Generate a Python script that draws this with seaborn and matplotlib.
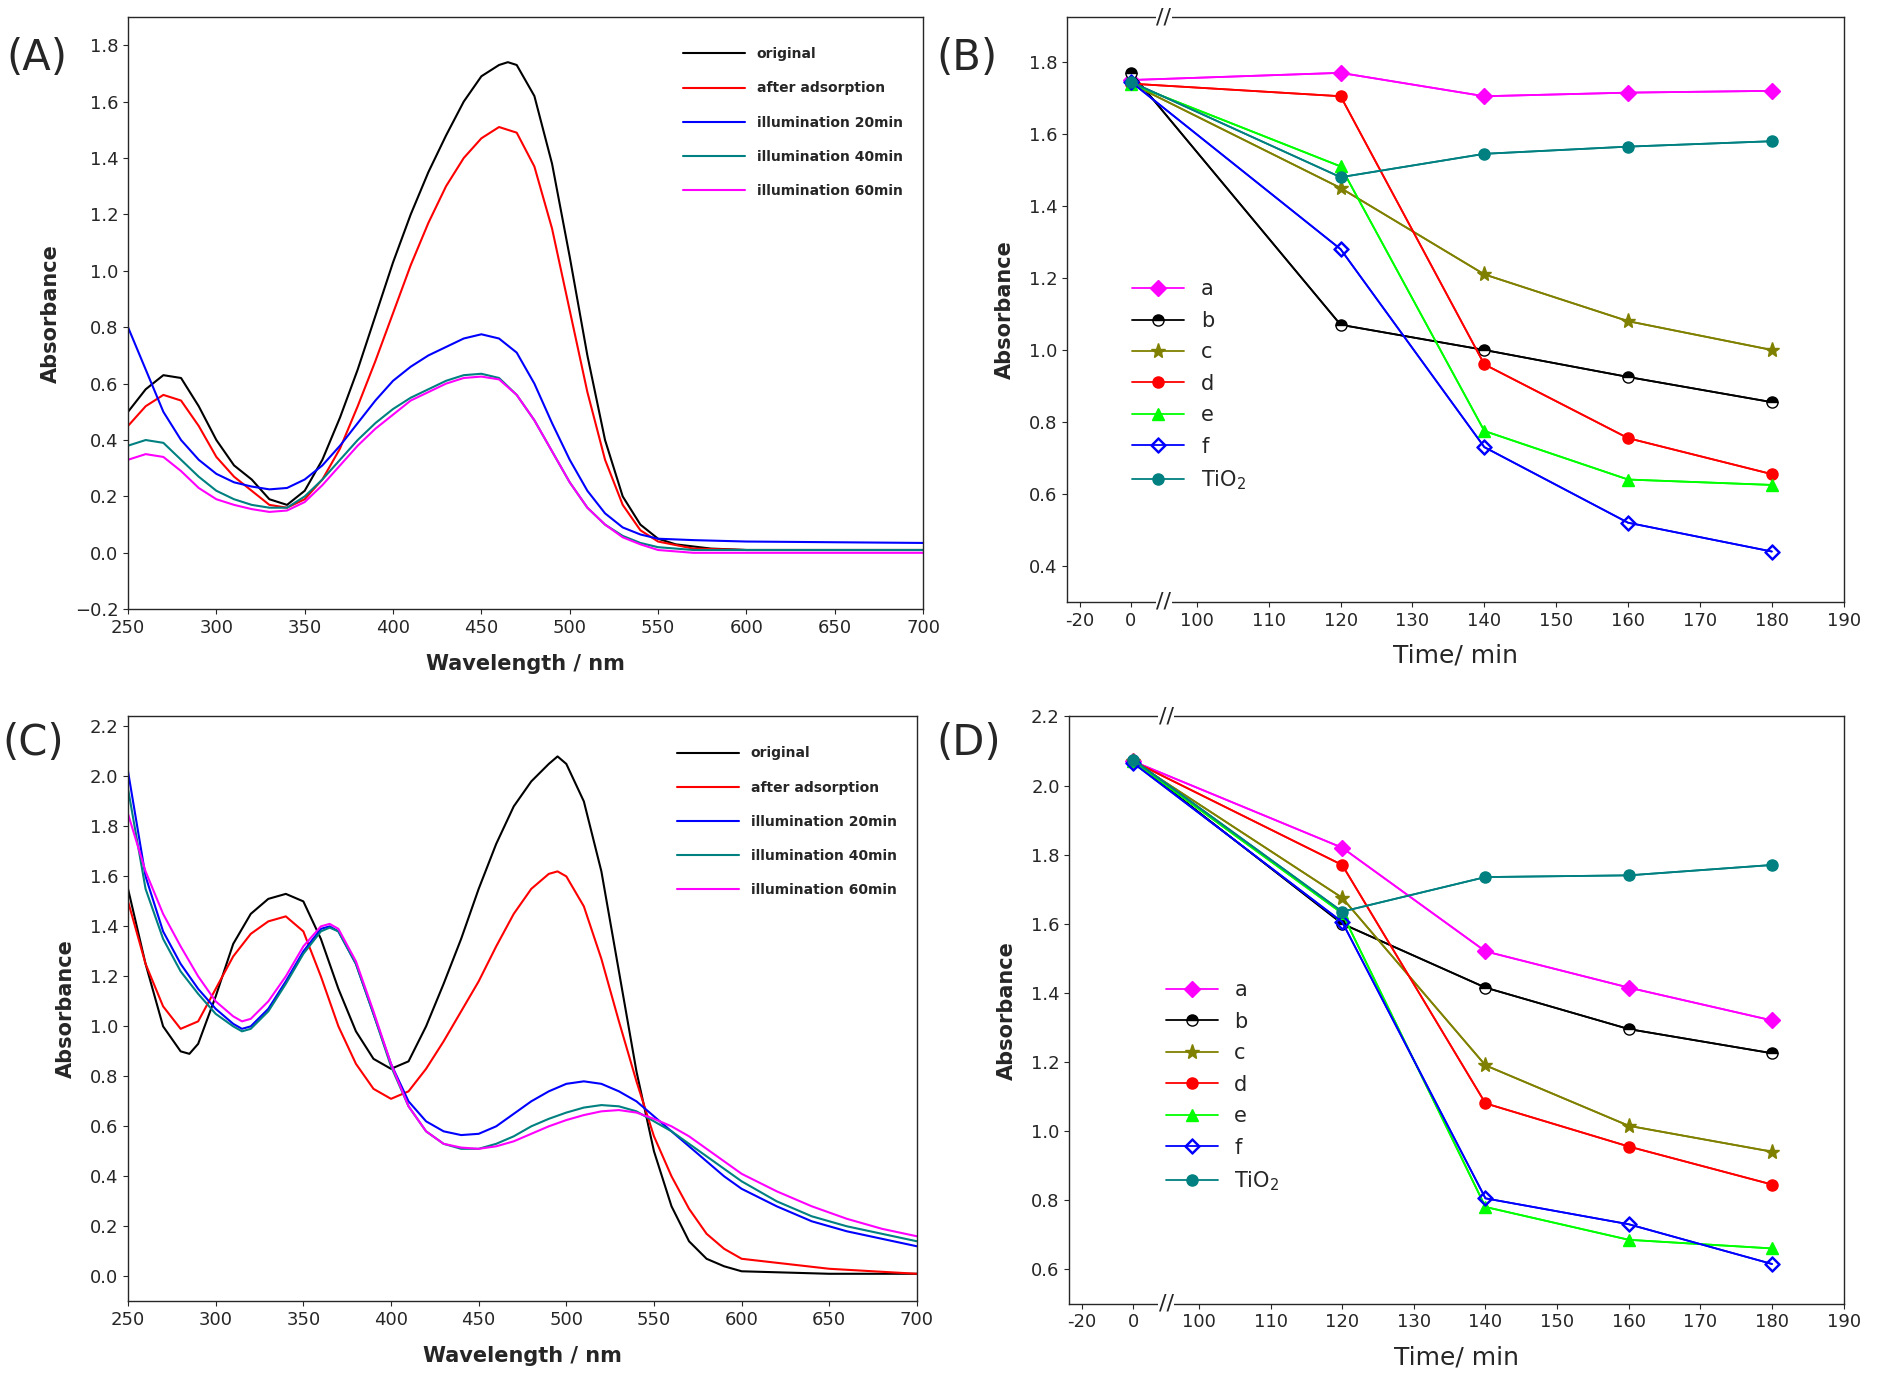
import numpy as np
import pandas as pd
import matplotlib
matplotlib.use("Agg")
import matplotlib.pyplot as plt
import seaborn as sns

sns.set_style("ticks")
plt.rcParams['font.family'] = ['DejaVu Sans']

# ---------------- Panel A data ----------------
wlA_orig = [250,260,270,280,290,300,310,320,330,340,350,360,370,380,390,400,410,420,430,440,450,460,465,470,480,490,500,510,520,530,540,550,560,580,600,700]
A_orig = [0.50,0.58,0.63,0.62,0.52,0.40,0.31,0.26,0.19,0.17,0.22,0.33,0.48,0.65,0.84,1.03,1.20,1.35,1.48,1.60,1.69,1.73,1.74,1.73,1.62,1.38,1.05,0.70,0.40,0.20,0.10,0.05,0.03,0.015,0.01,0.01]
wlA_ads = [250,260,270,280,290,300,310,320,330,340,350,360,370,380,390,400,410,420,430,440,450,460,470,480,490,500,510,520,530,540,550,570,600,700]
A_ads = [0.45,0.52,0.56,0.54,0.45,0.34,0.27,0.22,0.17,0.16,0.19,0.26,0.37,0.52,0.68,0.85,1.02,1.17,1.30,1.40,1.47,1.51,1.49,1.37,1.15,0.86,0.57,0.33,0.17,0.08,0.04,0.015,0.01,0.01]
wlA_20 = [250,260,270,280,290,300,310,320,330,340,350,360,370,380,390,400,410,420,430,440,450,460,470,480,490,500,510,520,530,540,550,570,600,700]
A_20 = [0.80,0.65,0.50,0.40,0.33,0.28,0.25,0.235,0.225,0.23,0.26,0.31,0.38,0.46,0.54,0.61,0.66,0.70,0.73,0.76,0.775,0.76,0.71,0.60,0.46,0.33,0.22,0.14,0.09,0.065,0.05,0.045,0.04,0.035]
wlA_40 = wlA_20
A_40 = [0.38,0.40,0.39,0.33,0.27,0.22,0.19,0.17,0.16,0.16,0.20,0.26,0.33,0.40,0.46,0.51,0.55,0.58,0.61,0.63,0.635,0.62,0.56,0.47,0.36,0.25,0.16,0.10,0.06,0.035,0.02,0.01,0.01,0.01]
wlA_60 = wlA_20
A_60 = [0.33,0.35,0.34,0.29,0.23,0.19,0.17,0.155,0.145,0.15,0.18,0.24,0.31,0.38,0.44,0.49,0.54,0.57,0.60,0.62,0.625,0.615,0.56,0.47,0.36,0.25,0.16,0.10,0.055,0.03,0.01,0.0,0.0,0.0]

# ---------------- Panel C data ----------------
wlC_orig = [250,260,270,280,285,290,300,310,320,330,340,350,360,370,380,390,400,410,420,430,440,450,460,470,480,490,495,500,510,520,530,540,550,560,570,580,590,600,650,700]
C_orig = [1.55,1.25,1.00,0.90,0.89,0.93,1.12,1.33,1.45,1.51,1.53,1.50,1.35,1.15,0.98,0.87,0.83,0.86,1.00,1.17,1.35,1.55,1.73,1.88,1.98,2.05,2.08,2.05,1.90,1.62,1.22,0.82,0.50,0.28,0.14,0.07,0.04,0.02,0.01,0.01]
wlC_ads = [250,260,270,280,290,300,310,320,330,340,350,360,370,380,390,400,410,420,430,440,450,460,470,480,490,495,500,510,520,530,540,550,560,570,580,590,600,650,700]
C_ads = [1.50,1.25,1.08,0.99,1.02,1.15,1.28,1.37,1.42,1.44,1.38,1.20,1.00,0.85,0.75,0.71,0.74,0.83,0.94,1.06,1.18,1.32,1.45,1.55,1.61,1.62,1.60,1.48,1.27,1.02,0.78,0.56,0.40,0.27,0.17,0.11,0.07,0.03,0.01]
wlC_ill = [250,260,270,280,290,300,310,315,320,330,340,350,360,365,370,380,390,400,410,420,430,440,450,460,470,480,490,500,510,520,530,540,550,560,570,580,590,600,620,640,660,680,700]
C_20 = [2.02,1.60,1.38,1.25,1.15,1.07,1.01,0.99,1.00,1.07,1.18,1.30,1.39,1.40,1.38,1.25,1.05,0.85,0.70,0.62,0.58,0.565,0.57,0.60,0.65,0.70,0.74,0.77,0.78,0.77,0.74,0.70,0.64,0.58,0.52,0.46,0.40,0.35,0.28,0.22,0.18,0.15,0.12]
C_40 = [1.95,1.55,1.35,1.22,1.13,1.05,1.00,0.98,0.99,1.06,1.17,1.29,1.38,1.395,1.38,1.25,1.05,0.84,0.68,0.58,0.53,0.51,0.51,0.53,0.56,0.60,0.63,0.655,0.675,0.685,0.68,0.66,0.62,0.58,0.53,0.48,0.43,0.38,0.30,0.24,0.20,0.17,0.14]
C_60 = [1.85,1.62,1.45,1.32,1.20,1.10,1.04,1.02,1.03,1.10,1.20,1.32,1.40,1.41,1.39,1.26,1.06,0.85,0.68,0.58,0.53,0.515,0.51,0.52,0.54,0.57,0.60,0.625,0.645,0.66,0.665,0.655,0.63,0.60,0.56,0.51,0.46,0.41,0.34,0.28,0.23,0.19,0.16]

spec_labels = ["original", "after adsorption", "illumination 20min", "illumination 40min", "illumination 60min"]
spec_colors = ["black", "red", "blue", "#008080", "magenta"]

# ---------------- Panels B, D data ----------------
times = [0, 120, 140, 160, 180]
series_names = ["a", "b", "c", "d", "e", "f", "TiO$_2$"]
B_vals = {
    "a": [1.75, 1.77, 1.705, 1.715, 1.72],
    "b": [1.77, 1.07, 1.00, 0.925, 0.855],
    "c": [1.74, 1.45, 1.21, 1.08, 1.00],
    "d": [1.74, 1.705, 0.96, 0.755, 0.655],
    "e": [1.74, 1.51, 0.775, 0.64, 0.625],
    "f": [1.745, 1.28, 0.73, 0.52, 0.44],
    "TiO$_2$": [1.745, 1.48, 1.545, 1.565, 1.58],
}
D_vals = {
    "a": [2.07, 1.82, 1.52, 1.415, 1.32],
    "b": [2.07, 1.60, 1.415, 1.295, 1.225],
    "c": [2.07, 1.675, 1.19, 1.015, 0.94],
    "d": [2.07, 1.77, 1.08, 0.955, 0.845],
    "e": [2.07, 1.63, 0.78, 0.685, 0.66],
    "f": [2.065, 1.605, 0.805, 0.73, 0.615],
    "TiO$_2$": [2.075, 1.635, 1.735, 1.74, 1.77],
}
time_ticks = [-20, 0, 100, 110, 120, 130, 140, 150, 160, 170, 180, 190]

ser_style = {
    "a": dict(color="magenta", marker="D", mfc="magenta", ms=8),
    "b": dict(color="black", marker="o", mfc="black", fillstyle="top", mfcalt="white", ms=8),
    "c": dict(color="#808000", marker="*", mfc="#808000", ms=11),
    "d": dict(color="red", marker="o", mfc="red", ms=8),
    "e": dict(color="#00ff00", marker="^", mfc="#00ff00", ms=9),
    "f": dict(color="blue", marker="$\u25C7$", mfc="none", ms=11),
    "TiO$_2$": dict(color="#008080", marker="o", mfc="#008080", ms=8),
}

# broken-axis scale
def fwd(t):
    t = np.asarray(t, dtype=float)
    return np.where(t <= 0, 928 + 2.1 * t,
           np.where(t < 100, 928 + 0.54 * t, 982 + 5.89 * (t - 100)))

def inv(u):
    u = np.asarray(u, dtype=float)
    return np.where(u <= 928, (u - 928) / 2.1,
           np.where(u < 982, (u - 928) / 0.54, 100 + (u - 982) / 5.89))

fig = plt.figure(figsize=(18.9, 13.89), dpi=100)
W, H = 1550.0, 1140.0
def rect(l, r, t, b):
    return [l / W, 1 - b / H, (r - l) / W, (b - t) / H]

axA = fig.add_axes(rect(105, 757, 14, 500))
axB = fig.add_axes(rect(875, 1512, 14, 494))
axC = fig.add_axes(rect(105, 752, 588, 1068))
axD = fig.add_axes(rect(877, 1512, 588, 1070))

def spectra(ax, data, ylim, yticks):
    for (x, y), lab, col in zip(data, spec_labels, spec_colors):
        sns.lineplot(x=x, y=y, color=col, label=lab, ax=ax, lw=1.5)
    ax.set_xlim(250, 700)
    ax.set_ylim(*ylim)
    ax.set_yticks(yticks)
    ax.set_xticks(range(250, 701, 50))
    ax.set_xlabel("Wavelength / nm", fontsize=15, fontweight="bold", labelpad=12)
    ax.set_ylabel("Absorbance", fontsize=15, fontweight="bold", labelpad=10)
    ax.tick_params(labelsize=13)
    ax.legend(loc="upper right", frameon=False, prop={"weight": "bold", "size": 10},
              handlelength=4.5, labelspacing=1.45, bbox_to_anchor=(0.99, 0.97))

spectra(axA, [(wlA_orig, A_orig), (wlA_ads, A_ads), (wlA_20, A_20), (wlA_40, A_40), (wlA_60, A_60)],
        (-0.2, 1.9), np.round(np.arange(-0.2, 1.81, 0.2), 1))
spectra(axC, [(wlC_orig, C_orig), (wlC_ads, C_ads), (wlC_ill, C_20), (wlC_ill, C_40), (wlC_ill, C_60)],
        (-0.1, 2.24), np.round(np.arange(0.0, 2.21, 0.2), 1))

def kinetics(ax, vals, ylim, yticks, legend_anchor):
    ax.set_xscale("function", functions=(fwd, inv))
    for name in series_names:
        st = ser_style[name]
        sns.lineplot(x=times, y=vals[name], ax=ax, color=st["color"], lw=1.3, label=None)
        extra = {k: v for k, v in st.items() if k not in ("color",)}
        ax.plot(times, vals[name], ls="-", color=st["color"], mec=st["color"], label=name, lw=1.3, **extra)
    ax.set_xlim(-25, 190)
    ax.set_ylim(*ylim)
    ax.set_yticks(yticks)
    ax.set_xticks(time_ticks)
    ax.set_xticklabels([str(t) for t in time_ticks])
    ax.set_xlabel("Time/ min", fontsize=18, labelpad=10)
    ax.set_ylabel("Absorbance", fontsize=15, fontweight="bold", labelpad=10)
    ax.tick_params(labelsize=13)
    h, l = ax.get_legend_handles_labels()
    n = len(series_names)
    ax.legend(h[-n:], l[-n:], loc="center left", bbox_to_anchor=legend_anchor, frameon=False,
              fontsize=15, handlelength=2.5, labelspacing=0.55)
    for yy in (0, 1):
        ax.text(50, yy, "//", transform=ax.get_xaxis_transform(), ha="center", va="center",
                fontsize=16, bbox=dict(fc="white", ec="none", pad=0.5), clip_on=False)

kinetics(axB, B_vals, (0.3, 1.925), np.round(np.arange(0.4, 1.81, 0.2), 1), (0.06, 0.37))
kinetics(axD, D_vals, (0.5, 2.19), np.round(np.arange(0.6, 2.21, 0.2), 1), (0.1, 0.37))

for ax in (axA, axB, axC, axD):
    for s in ax.spines.values():
        s.set_visible(True)
        s.set_linewidth(1.0)

for lab, x, y in [("(A)", 5, 48), ("(B)", 768, 48), ("(C)", 2, 610), ("(D)", 768, 610)]:
    fig.text(x / W, 1 - y / H, lab, fontsize=30, va="center", ha="left")

fig.savefig("out.png", dpi=100)
